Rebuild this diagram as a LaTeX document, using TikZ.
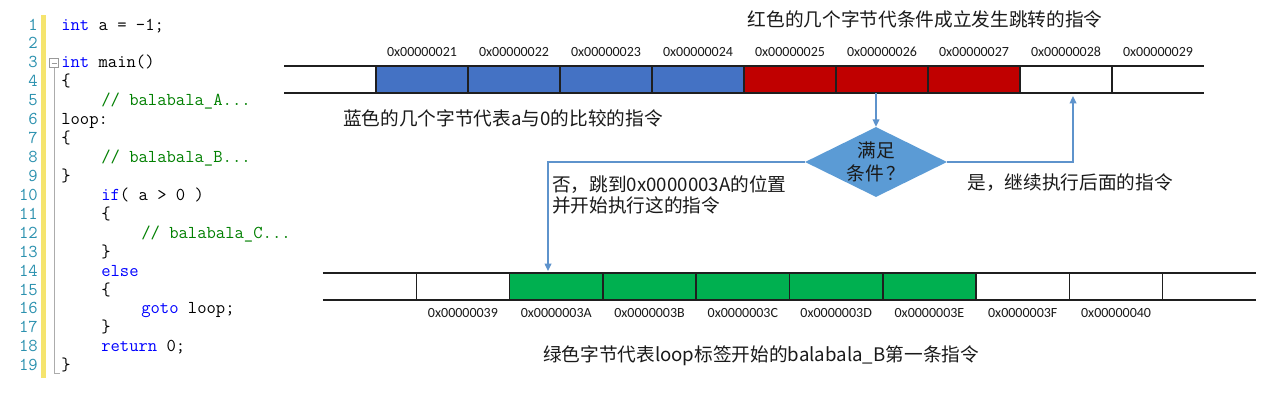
\documentclass[tikz,border=0pt]{standalone}
\usepackage{fontspec}
\newfontfamily\cjk{Noto Sans CJK SC}
\newfontfamily\hexfont{Carlito}
\usetikzlibrary{arrows.meta,shapes.geometric}
\definecolor{cellblue}{HTML}{4472C4}
\definecolor{cellred}{HTML}{C00000}
\definecolor{cellgreen}{HTML}{00B050}
\definecolor{diafill}{HTML}{5B9BD5}
\definecolor{flowline}{HTML}{5E93CC}
\definecolor{lnum}{HTML}{2B91AF}
\definecolor{kw}{HTML}{0000FF}
\definecolor{cmt}{HTML}{008000}
\definecolor{codeyellow}{RGB}{245,228,110}
\definecolor{txt}{HTML}{1A1A1A}
\tikzset{
  topcell/.style={minimum width=69pt, minimum height=20.25pt, inner sep=0pt, outer sep=0pt},
  botcell/.style={minimum width=70pt, minimum height=20.25pt, inner sep=0pt, outer sep=0pt},
  barline/.style={line width=1.1pt, draw=black!88},
  hex/.style={font=\hexfont\fontsize{10.5}{12}\selectfont, text=txt, inner sep=0pt},
  cjktext/.style={font=\cjk\fontsize{14}{16}\selectfont, text=txt, inner sep=0pt},
  flowarrow/.style={draw=flowline, line width=1pt, -{Triangle[width=5pt,length=5.5pt]}},
  decision/.style={diamond, aspect=2, fill=diafill, minimum width=106.5pt, minimum height=52.5pt, inner sep=0pt, align=center, font=\cjk\fontsize{14}{17}\selectfont, text=txt},
  code/.style={anchor=base west, inner sep=0pt, font=\ttfamily\fontsize{13.6}{16}\selectfont, text=black},
  lnumstyle/.style={anchor=base east, inner sep=0pt, font=\ttfamily\fontsize{13.6}{16}\selectfont, text=lnum},
}
\begin{document}
\begin{tikzpicture}[x=0.75pt,y=-0.75pt]
\useasboundingbox (0,0) rectangle (1280,401);
\fill[white] (0,0) rectangle (1280,401);

% ---------- code panel ----------
\path[fill=codeyellow] (41,15) rectangle (46,378);
\draw[gray!65, line width=0.75pt] (54.3,67.5) -- (54.3,373) -- (60,373);
\draw[gray!80, line width=0.6pt, fill=white] (49.5,58.5) rectangle (58.5,67.5);
\draw[gray!80, line width=0.6pt] (51.5,63) -- (56.5,63);
\foreach \n in {1,...,19} \node[lnumstyle] (n\n) at (38,{30+(\n-1)*18.93}) {\n};
\node[code] (c1)  at (61,30)     {\textcolor{kw}{int} a = -1;};
\node[code] (c3)  at (61,67.86)  {\textcolor{kw}{int} main()};
\node[code] (c4)  at (61,86.79)  {\{};
\node[code] (c5)  at (101,105.72){\textcolor{cmt}{// balabala\_A...}};
\node[code] (c6)  at (61,124.65) {loop:};
\node[code] (c7)  at (61,143.58) {\{};
\node[code] (c8)  at (101,162.51){\textcolor{cmt}{// balabala\_B...}};
\node[code] (c9)  at (61,181.44) {\}};
\node[code] (c10) at (101,200.37){\textcolor{kw}{if}( a > 0 )};
\node[code] (c11) at (101,219.3) {\{};
\node[code] (c12) at (141,238.23){\textcolor{cmt}{// balabala\_C...}};
\node[code] (c13) at (101,257.16){\}};
\node[code] (c14) at (101,276.09){\textcolor{kw}{else}};
\node[code] (c15) at (101,295.02){\{};
\node[code] (c16) at (141,313.95){\textcolor{kw}{goto} loop;};
\node[code] (c17) at (101,332.88){\}};
\node[code] (c18) at (101,351.81){\textcolor{kw}{return} 0;};
\node[code] (c19) at (61,370.74) {\}};

% ---------- top memory bar ----------
\foreach \i/\c in {0/white,1/cellblue,2/cellblue,3/cellblue,4/cellblue,5/cellred,6/cellred,7/cellred,8/white,9/white}
  \node[topcell, fill=\c] (t\i) at ({330+92*\i},79.5) {};
\draw[barline] (t0.north west) -- (t9.north east);
\draw[barline] (t0.south west) -- (t9.south east);
\foreach \i in {1,...,9} \draw[barline] (t\i.north west) -- (t\i.south west);
\foreach \i/\l in {1/21,2/22,3/23,4/24,5/25,6/26,7/27,8/28,9/29}
  \node[hex] (lt\i) at ({330+92*\i},52) {0x000000\l};

% ---------- bottom memory bar ----------
\foreach \i/\c in {0/white,1/white,2/cellgreen,3/cellgreen,4/cellgreen,5/cellgreen,6/cellgreen,7/white,8/white,9/white}
  \node[botcell, fill=\c] (b\i) at ({369.65+93.3*\i},286.5) {};
\draw[barline] (b0.north west) -- (b9.north east);
\draw[barline] (b0.south west) -- (b9.south east);
\foreach \i in {1,...,9} \draw[barline] (b\i.north west) -- (b\i.south west);
\foreach \i/\l in {1/39,2/3A,3/3B,4/3C,5/3D,6/3E,7/3F,8/40}
  \node[hex] (lb\i) at ({369.65+93.3*\i},313) {0x000000\l};

% ---------- texts ----------
\node[cjktext] (title) at (925,19) {红色的几个字节代条件成立发生跳转的指令};
\node[cjktext] (bluetxt) at (503,118) {蓝色的几个字节代表a与0的比较的指令};
\node[cjktext, anchor=west, align=left, font=\cjk\fontsize{14}{15.75}\selectfont] (notxt) at (552,194.5) {否，跳到0x0000003A的位置\\并开始执行这的指令};
\node[cjktext] (yestxt) at (1070,183) {是，继续执行后面的指令};
\node[cjktext] (greentxt) at (761,356) {绿色字节代表loop标签开始的balabala\_B第一条指令};

% ---------- decision ----------
\node[decision] (dia) at (876,162) {满足\\条件\,？};
\coordinate (yesend) at (1073,96);
\coordinate (noend) at (548,271);
\draw[flowarrow] (dia.north |- t6.south) -- (dia.north);
\draw[flowarrow] (dia.east) -| (yesend);
\draw[flowarrow] (dia.west) -| (noend);
\end{tikzpicture}
\end{document}
